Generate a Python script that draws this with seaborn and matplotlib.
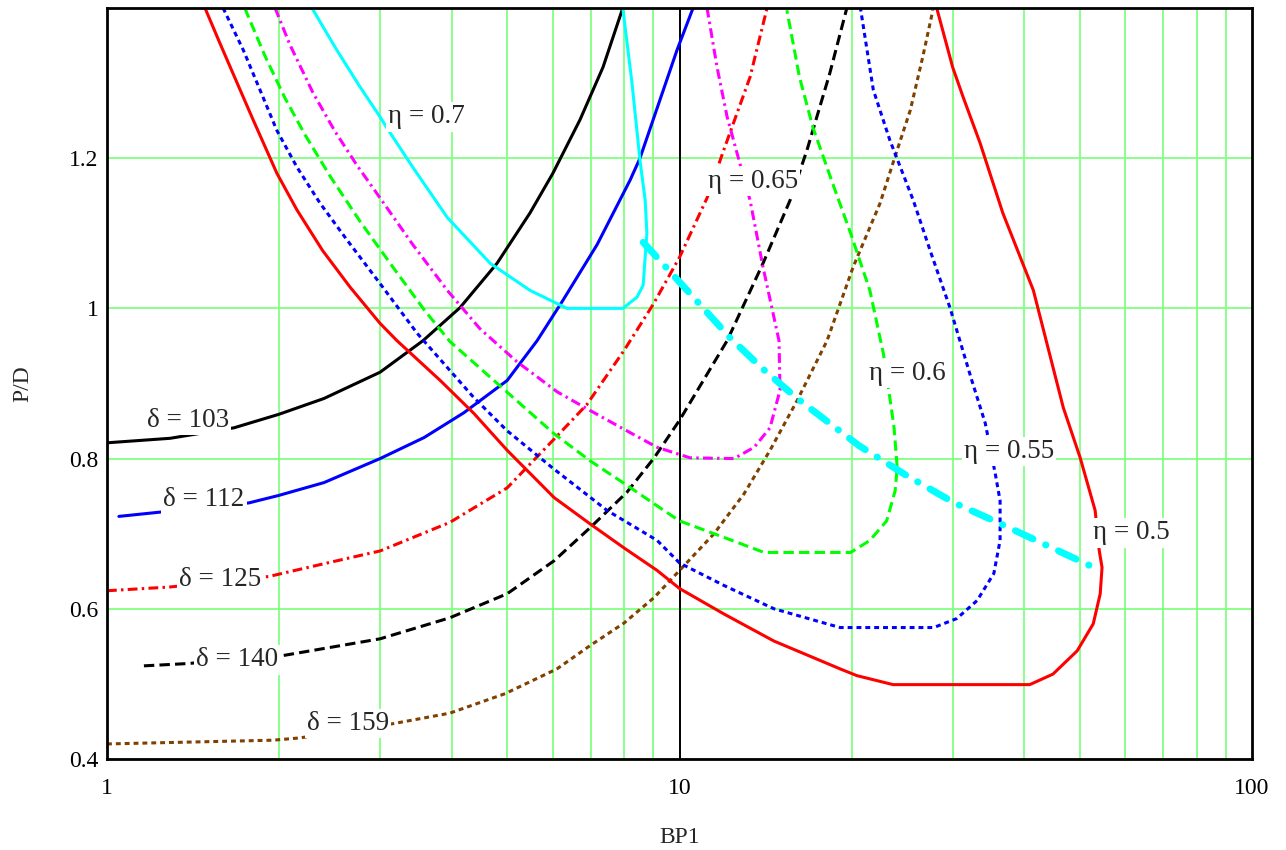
import matplotlib
matplotlib.use("Agg")
import matplotlib.pyplot as plt
import seaborn as sns
from matplotlib.ticker import FixedLocator, FixedFormatter, NullFormatter

# ==========================================
# data (BP1, P/D)
# ==========================================
# delta curves
d103_x = [1.0, 1.289, 1.667, 1.997, 2.393, 2.999, 3.564, 4.136, 4.80, 5.48, 6.01, 6.70, 7.35, 7.96]
d103_y = [0.821, 0.827, 0.841, 0.859, 0.880, 0.915, 0.957, 1.001, 1.060, 1.127, 1.180, 1.251, 1.321, 1.40]

d112_x = [1.049, 1.213, 1.77, 1.997, 2.393, 2.999, 3.58, 4.20, 5.0, 5.64, 6.26, 7.18, 8.20, 8.53, 9.90, 10.56]
d112_y = [0.723, 0.728, 0.741, 0.751, 0.768, 0.800, 0.828, 0.861, 0.904, 0.957, 1.011, 1.085, 1.171, 1.200, 1.344, 1.40]

d125_x = [1.0, 1.289, 1.918, 2.393, 2.999, 3.97, 5.0, 6.04, 6.89, 8.0, 8.99, 10.0, 11.17, 11.91, 13.28, 14.22]
d125_y = [0.624, 0.629, 0.643, 0.660, 0.677, 0.715, 0.761, 0.826, 0.872, 0.944, 1.005, 1.068, 1.147, 1.208, 1.308, 1.40]

d140_x = [1.16, 1.38, 2.005, 2.999, 3.97, 5.0, 6.04, 6.98, 8.09, 9.03, 10.0, 12.11,
          13.99, 15.6, 16.7, 18.3, 19.6]
d140_y = [0.524, 0.527, 0.537, 0.560, 0.588, 0.620, 0.664, 0.708, 0.755, 0.801, 0.851, 0.957,
          1.060, 1.144, 1.211, 1.313, 1.40]

d159_x = [1.0, 1.95, 2.17, 3.16, 3.97, 4.96, 6.11, 6.98, 8.0, 9.03, 10.0, 11.49, 12.96,
          14.39, 16.04, 18.1, 20.1, 22.4, 24.0, 25.3, 26.6, 27.7]
d159_y = [0.420, 0.425, 0.428, 0.447, 0.461, 0.487, 0.520, 0.551, 0.581, 0.615, 0.651, 0.700, 0.753,
          0.811, 0.877, 0.957, 1.055, 1.140, 1.211, 1.264, 1.335, 1.397]

# efficiency curves
e70_x = [2.28, 2.52, 2.766, 2.999, 3.084, 3.42, 3.93, 4.67, 5.48, 6.36, 7.96, 8.43, 8.64,
         8.77, 8.71, 8.53, 8.26, 7.96]
e70_y = [1.40, 1.344, 1.295, 1.255, 1.240, 1.188, 1.121, 1.060, 1.024, 1.0, 1.0, 1.015, 1.031,
         1.10, 1.144, 1.197, 1.30, 1.40]

e65_x = [1.966, 2.087, 2.29, 2.50, 2.73, 2.999, 3.42, 3.93, 4.48, 5.20, 6.11, 6.98, 8.0, 9.14,
         10.43, 12.45, 13.5, 14.39, 14.98, 14.92, 13.99, 13.28, 12.6, 12.11, 11.63, 11.17]
e65_y = [1.40, 1.351, 1.287, 1.236, 1.191, 1.147, 1.085, 1.024, 0.973, 0.929, 0.889, 0.864, 0.839, 0.815,
         0.801, 0.80, 0.815, 0.841, 0.891, 0.957, 1.055, 1.144, 1.207, 1.255, 1.321, 1.40]

e60_x = [1.74, 1.888, 2.046, 2.218, 2.453, 2.766, 3.185, 3.59, 3.97, 4.74, 6.04, 6.98, 8.0,
         9.14, 10.0, 11.96, 14.05, 19.9, 21.5, 23.0, 23.8, 24.0, 23.7, 23.2, 22.7, 21.5, 19.9,
         18.5, 17.1, 16.2, 15.4]
e60_y = [1.40, 1.336, 1.280, 1.231, 1.176, 1.116, 1.051, 0.997, 0.956, 0.904, 0.833, 0.797, 0.767,
         0.737, 0.717, 0.695, 0.675, 0.675, 0.691, 0.717, 0.757, 0.788, 0.841, 0.891, 0.940, 1.024, 1.10,
         1.167, 1.241, 1.308, 1.397]

e55_x = [1.595, 1.73, 1.85, 1.98, 2.147, 2.356, 2.626, 2.999, 3.48, 4.375, 5.0, 5.99, 7.47, 9.14,
         10.0, 11.96, 14.62, 19.07, 27.8, 30.5, 33.1, 35.4, 36.3, 36.3, 35.6, 34.2, 32.4, 29.7,
         27.4, 25.6, 23.3, 21.8, 20.7]
e55_y = [1.40, 1.344, 1.291, 1.237, 1.188, 1.140, 1.091, 1.033, 0.967, 0.881, 0.837, 0.788, 0.731, 0.691,
         0.661, 0.631, 0.600, 0.575, 0.575, 0.587, 0.611, 0.647, 0.691, 0.744, 0.780, 0.847, 0.904, 1.0,
         1.077, 1.144, 1.224, 1.291, 1.40]

e50_x = [1.483, 1.575, 1.708, 1.80, 1.98, 2.147, 2.38, 2.66, 2.999, 3.21, 3.82, 4.375, 5.0, 6.04,
         6.98, 8.0, 9.14, 10.0, 11.96, 14.62, 19.07, 20.4, 23.6, 40.9, 44.9, 49.5, 52.8, 54.3,
         54.7, 54.1, 53.2, 50.1, 46.8, 41.5, 36.7, 33.5, 31.3, 30.0, 28.2]
e50_y = [1.40, 1.353, 1.291, 1.251, 1.180, 1.131, 1.077, 1.028, 0.980, 0.957, 0.904, 0.860, 0.811, 0.748,
         0.713, 0.681, 0.651, 0.627, 0.593, 0.557, 0.520, 0.511, 0.499, 0.499, 0.513, 0.544, 0.580, 0.620,
         0.655, 0.677, 0.731, 0.801, 0.868, 1.024, 1.127, 1.220, 1.281, 1.321, 1.397]

# optimum line
opt_x = [8.64, 10.31, 12.25, 13.95, 16.0, 16.9, 20.6, 24.97, 30.2, 36.9, 54.3]
opt_y = [1.088, 1.024, 0.961, 0.920, 0.881, 0.867, 0.817, 0.777, 0.741, 0.711, 0.651]

labels = ["δ = 103", "δ = 112", "δ = 125", "δ = 140", "δ = 159",
          "η = 0.7", "η = 0.65", "η = 0.6", "η = 0.55", "η = 0.5"]
label_x = [1.385, 1.477, 1.575, 1.687, 2.636, 3.62, 13.44, 24.97, 37.6, 61.5]
label_y = [0.851, 0.745, 0.639, 0.532, 0.447, 1.255, 1.169, 0.913, 0.809, 0.701]

x_ticks = [1, 10, 100]
x_ticklabels = ["1", "10", "100"]
y_ticks = [0.4, 0.6, 0.8, 1.0, 1.2]
y_ticklabels = ["0.4", "0.6", "0.8", "1", "1.2"]

# ==========================================
sns.set_style("white")
plt.rcParams['font.family'] = ['Liberation Serif', 'DejaVu Serif']

fig = plt.figure(figsize=(12.86, 8.5), dpi=100)
ax = fig.add_axes([0.0832, 0.1071, 0.8904, 0.8835])
ax.set_xscale('log')

LW = 2.2
DASHDOT = (0, (3.2, 1.4, 0.8, 1.4))
DASHED = (0, (3.4, 1.7))
DOTTED = (0, (1.6, 1.3))

curves = [
    (d103_x, d103_y, 'black', '-'),
    (d112_x, d112_y, '#0000ff', '-'),
    (d125_x, d125_y, '#ff0000', DASHDOT),
    (d140_x, d140_y, 'black', DASHED),
    (d159_x, d159_y, '#804000', DOTTED),
    (e70_x, e70_y, '#00ffff', '-'),
    (e65_x, e65_y, '#ff00ff', DASHDOT),
    (e60_x, e60_y, '#00ff00', DASHED),
    (e55_x, e55_y, '#0000ff', DOTTED),
    (e50_x, e50_y, '#ff0000', '-'),
]
for xs, ys, col, ls in curves:
    sns.lineplot(x=xs, y=ys, sort=False, estimator=None, color=col,
                 linestyle=ls, linewidth=LW, ax=ax, zorder=3)

# optimum line (thick cyan dash-dot)
sns.lineplot(x=opt_x, y=opt_y, sort=False, estimator=None, color='#00ffff',
             linestyle=(0, (2.8, 2.0, 0.05, 2.0)), linewidth=5.0,
             dash_capstyle='round', ax=ax, zorder=3)

for txt, lx, ly in zip(labels, label_x, label_y):
    ax.text(lx, ly, txt, fontsize=19.5, ha='center', va='center', zorder=5,
            bbox=dict(facecolor='white', edgecolor='none', pad=1.5))

# grid & frame
ax.set_xlim(1, 100)
ax.set_ylim(0.4, 1.4)
ax.xaxis.set_major_locator(FixedLocator(x_ticks))
ax.xaxis.set_major_formatter(FixedFormatter(x_ticklabels))
ax.xaxis.set_minor_locator(FixedLocator([2, 3, 4, 5, 6, 7, 8, 9, 20, 30, 40, 50, 60, 70, 80, 90]))
ax.xaxis.set_minor_formatter(NullFormatter())
ax.yaxis.set_major_locator(FixedLocator(y_ticks))
ax.yaxis.set_major_formatter(FixedFormatter(y_ticklabels))
ax.grid(False)
ax.grid(which='minor', axis='x', color='#80ff80', linewidth=1.3, zorder=1)
ax.grid(which='major', axis='y', color='#80ff80', linewidth=1.3, zorder=1)
ax.axvline(10, color='black', linewidth=1.4, zorder=2)
ax.set_axisbelow(True)

ax.tick_params(which='both', length=0, labelsize=17, colors='black')
ax.tick_params(axis='x', pad=14)
ax.tick_params(axis='y', pad=6)
for lbl in ax.get_yticklabels():
    lbl.set_verticalalignment('center_baseline')
for sp in ax.spines.values():
    sp.set_color('black')
    sp.set_linewidth(2.0)
    sp.set_zorder(6)

ax.set_xlabel('BP1', fontsize=17)
ax.set_ylabel('P/D', fontsize=17)
ax.xaxis.set_label_coords(0.5, -0.09)
ax.yaxis.set_label_coords(-0.064, 0.5)

plt.savefig('out.png', dpi=100)
